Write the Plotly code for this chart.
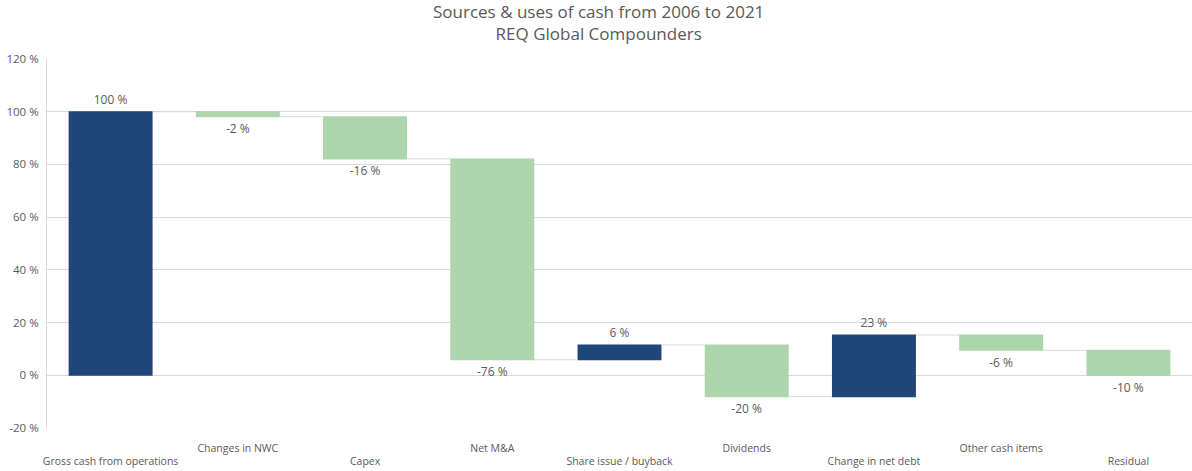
import plotly.graph_objects as go

categories = ["Gross cash from operations", "Changes in NWC", "Capex", "Net M&A",
              "Share issue / buyback", "Dividends", "Change in net debt",
              "Other cash items", "Residual"]
values = [100, -1.9, -16.0, -76.2, 5.6, -19.6, 23.4, -5.8, -9.6]
y_ticks = [-20, 0, 20, 40, 60, 80, 100, 120]

labels = [f"{v:.0f} %" for v in values]
tick_text = [c if i % 2 == 1 else "<br>" + c for i, c in enumerate(categories)]

BLUE = "#1f4678"
GREEN = "#acd5ac"
TXT = "#595959"
FONT = "Open Sans"

W, H = 1192, 471
M_L, M_R, M_T, M_B = 47, 0, 59, 43
PLOT_W = W - M_L - M_R
PLOT_H = H - M_T - M_B

fig = go.Figure(go.Waterfall(
    x=categories,
    y=values,
    measure=["relative"] * len(values),
    text=labels,
    textposition="outside",
    textfont=dict(family=FONT, size=12, color=TXT),
    increasing=dict(marker=dict(color=BLUE)),
    decreasing=dict(marker=dict(color=GREEN)),
    connector=dict(line=dict(color="#d9d9d9", width=1)),
    cliponaxis=False,
))

fig.add_annotation(
    text="Sources & uses of cash from 2006 to 2021<br>REQ Global Compounders",
    xref="paper", yref="paper",
    x=(598 - M_L) / PLOT_W, y=1 + (M_T - 22) / PLOT_H,
    xanchor="center", yanchor="middle", showarrow=False,
    font=dict(family=FONT, size=17, color=TXT),
)

fig.update_layout(
    width=W, height=H,
    paper_bgcolor="white", plot_bgcolor="white",
    margin=dict(l=M_L, r=M_R, t=M_T, b=M_B, autoexpand=False),
    waterfallgap=0.34,
    showlegend=False,
    font=dict(family=FONT, color=TXT, size=12),
    xaxis=dict(
        tickmode="array", tickvals=categories, ticktext=tick_text,
        tickfont=dict(family=FONT, size=10.5, color=TXT),
        showgrid=False, showline=False, ticks="", automargin=False,
        ticklabelstandoff=12,
    ),
    yaxis=dict(
        range=[-20, 120], tickvals=y_ticks,
        ticktext=[f"{t} %" for t in y_ticks],
        tickfont=dict(family=FONT, size=11.5, color=TXT),
        showgrid=True, gridcolor="#d9d9d9", gridwidth=1,
        zeroline=False, showline=True, linecolor="#d9d9d9", linewidth=1,
        ticks="", ticklabelstandoff=5, automargin=False,
    ),
)

fig.write_html("out.html", config={"displayModeBar": False},
               post_script="document.body.style.margin='0';")
